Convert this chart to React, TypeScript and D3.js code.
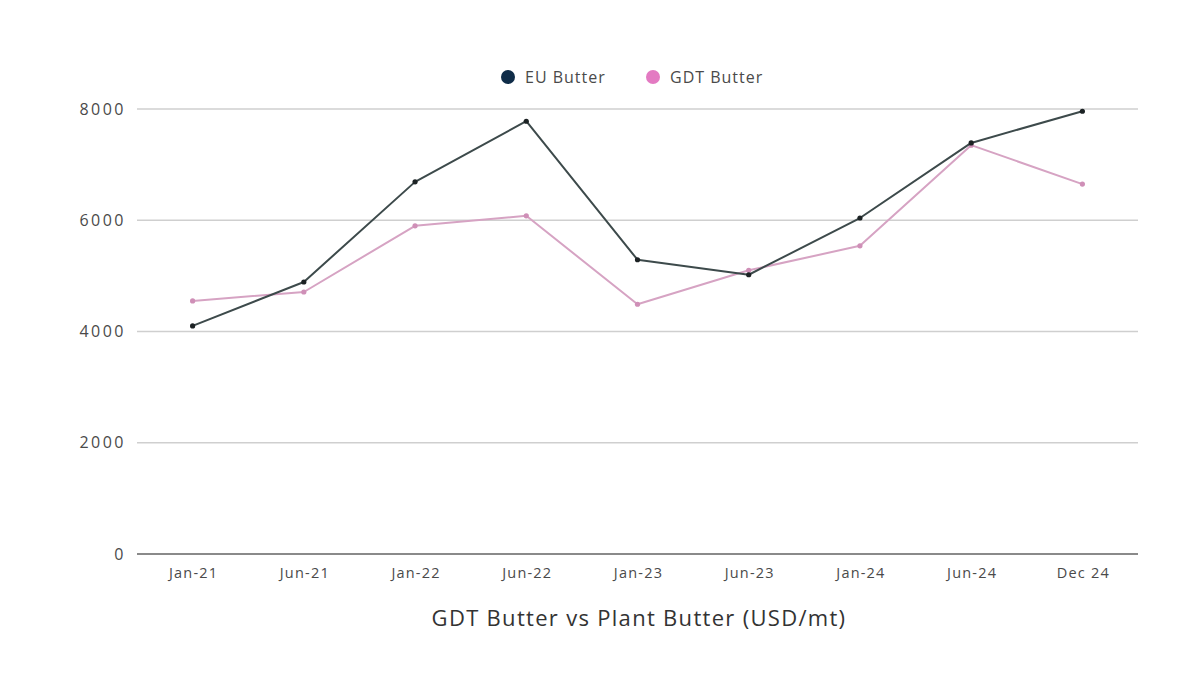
import { useRef, useEffect } from 'react';
import * as d3 from 'd3';

const CATEGORIES = ['Jan-21', 'Jun-21', 'Jan-22', 'Jun-22', 'Jan-23', 'Jun-23', 'Jan-24', 'Jun-24', 'Dec 24'];
const EU_BUTTER = [4100, 4890, 6690, 7780, 5290, 5020, 6040, 7390, 7960];
const GDT_BUTTER = [4550, 4710, 5900, 6080, 4490, 5100, 5540, 7350, 6650];
const Y_TICKS = [0, 2000, 4000, 6000, 8000];

const SERIES = [
  { name: 'EU Butter', values: EU_BUTTER, line: '#3d4a4b', dot: '#1c2224', legend: '#0f2c48' },
  { name: 'GDT Butter', values: GDT_BUTTER, line: '#d6a3c3', dot: '#cf8fb7', legend: '#e37ac2' },
];

const FONT = '"Open Sans", sans-serif';

export default function App() {
  const ref = useRef<SVGSVGElement>(null);

  useEffect(() => {
    const svg = d3.select(ref.current);
    svg.selectAll('*').remove();

    const W = 1200, H = 675;
    const m = { left: 137, right: 62, top: 109, bottom: 121 };

    svg.append('rect').attr('width', W).attr('height', H).attr('fill', '#ffffff');

    const x = d3.scalePoint<string>().domain(CATEGORIES).range([m.left, W - m.right]).padding(0.5);
    const y = d3.scaleLinear().domain([0, 8000]).range([H - m.bottom, m.top]);

    // grid + y labels
    const g = svg.append('g');
    Y_TICKS.forEach(t => {
      g.append('line')
        .attr('x1', m.left).attr('x2', W - m.right)
        .attr('y1', y(t)).attr('y2', y(t))
        .attr('stroke', t === 0 ? '#8a8a8a' : '#cfcfcf')
        .attr('stroke-width', t === 0 ? 2 : 1.3);
      g.append('text')
        .attr('x', 126).attr('y', y(t)).attr('dy', '0.35em')
        .attr('text-anchor', 'end')
        .attr('fill', '#4a4a4a').attr('font-size', '16px').attr('font-family', FONT)
        .attr('letter-spacing', '2.5px')
        .text(t);
    });

    // x labels
    CATEGORIES.forEach(c => {
      g.append('text')
        .attr('x', x(c)! + 1).attr('y', 578)
        .attr('text-anchor', 'middle')
        .attr('fill', '#4a4a4a').attr('font-size', '14.5px').attr('font-family', FONT)
        .attr('letter-spacing', '1.2px')
        .text(c);
    });

    // lines
    const line = d3.line<number>().x((_, i) => x(CATEGORIES[i])!).y(d => y(d));
    SERIES.slice().reverse().forEach(s => {
      svg.append('path').attr('d', line(s.values)!)
        .attr('fill', 'none').attr('stroke', s.line).attr('stroke-width', 2)
        .attr('stroke-linejoin', 'round');
      s.values.forEach((v, i) => {
        svg.append('circle').attr('cx', x(CATEGORIES[i])!).attr('cy', y(v)).attr('r', 2.6).attr('fill', s.dot);
      });
    });

    // legend
    const legendX = [508, 653];
    SERIES.forEach((s, i) => {
      svg.append('circle').attr('cx', legendX[i]).attr('cy', 77).attr('r', 7).attr('fill', s.legend);
      svg.append('text')
        .attr('x', legendX[i] + 17).attr('y', 77).attr('dy', '0.35em')
        .attr('fill', '#4a4a4a').attr('font-size', '16px').attr('font-family', FONT)
        .attr('letter-spacing', '1px')
        .text(s.name);
    });

    // title
    svg.append('text')
      .attr('x', 639).attr('y', 618).attr('dy', '0.35em')
      .attr('text-anchor', 'middle')
      .attr('fill', '#333333').attr('font-size', '22px').attr('font-family', FONT)
      .attr('letter-spacing', '1.3px')
      .text('GDT Butter vs Plant Butter (USD/mt)');
  }, []);

  return (
    <svg ref={ref} width={1200} height={675}
      style={{ position: 'absolute', left: 0, top: 0, display: 'block' }} />
  );
}
